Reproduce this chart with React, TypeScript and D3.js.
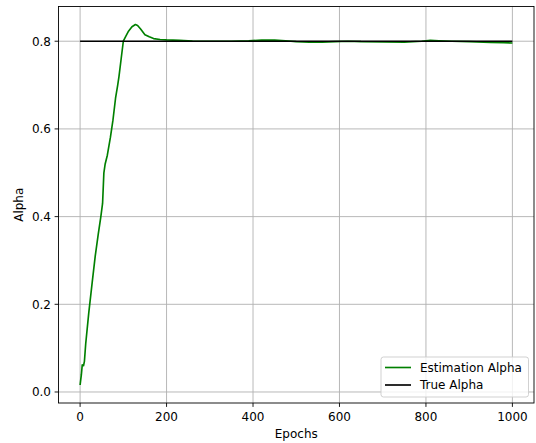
import React from "react";
import * as d3 from "d3";

const epochs = [0, 3, 5, 8, 10, 13, 20, 28, 35, 42, 48, 52, 55, 58, 63, 70, 76, 82, 87, 90, 95, 100, 105, 112, 120, 128, 133, 140, 150, 160, 170, 185, 200, 230, 260, 300, 350, 390, 420, 450, 475, 500, 530, 560, 590, 620, 650, 700, 750, 790, 810, 830, 860, 900, 950, 980, 1000];
const estAlpha = [0.016, 0.04, 0.062, 0.060, 0.07, 0.11, 0.18, 0.25, 0.31, 0.36, 0.40, 0.43, 0.50, 0.52, 0.54, 0.58, 0.62, 0.67, 0.70, 0.72, 0.76, 0.80, 0.81, 0.823, 0.833, 0.838, 0.836, 0.828, 0.815, 0.81, 0.806, 0.804, 0.803, 0.802, 0.8005, 0.800, 0.800, 0.801, 0.8025, 0.8025, 0.801, 0.799, 0.798, 0.798, 0.799, 0.800, 0.799, 0.7985, 0.798, 0.800, 0.802, 0.801, 0.800, 0.799, 0.7975, 0.7965, 0.796];
const trueAlpha = 0.8;
const xTicks = [0, 200, 400, 600, 800, 1000];
const yTicks = [0.0, 0.2, 0.4, 0.6, 0.8];
const legendLabels = ["Estimation Alpha", "True Alpha"];

const W = 536, H = 443;
const L = 58.5, R = 534, T = 6.5, B = 403;
const FONT = "DejaVu Sans, sans-serif";
const FS = 12;

export default function App() {
  const x = d3.scaleLinear().domain([-49.95, 1049.95]).range([L, R]);
  const y = d3.scaleLinear().domain([-0.0251, 0.8792]).range([B, T]);
  const line = d3.line<number>().x((_, i) => x(epochs[i])).y((d) => y(d));
  const fmtY = (v: number) => v.toFixed(1);
  return (
    <svg width={W} height={H} style={{ position: "absolute", left: 0, top: 0, background: "#fff" }} fontFamily={FONT}>
      <g>
        {xTicks.map((t) => (
          <line key={"gx" + t} x1={x(t)} x2={x(t)} y1={T} y2={B} stroke="#b0b0b0" strokeWidth={0.9} />
        ))}
        {yTicks.map((t) => (
          <line key={"gy" + t} x1={L} x2={R} y1={y(t)} y2={y(t)} stroke="#b0b0b0" strokeWidth={0.9} />
        ))}
      </g>
      <path d={line(estAlpha) || ""} fill="none" stroke="#008000" strokeWidth={1.65} strokeLinejoin="round" />
      <line x1={x(0)} x2={x(1000)} y1={y(trueAlpha)} y2={y(trueAlpha)} stroke="#000" strokeWidth={1.65} />
      <rect x={L} y={T} width={R - L} height={B - T} fill="none" stroke="#000" strokeWidth={0.9} />
      {xTicks.map((t) => (
        <g key={"tx" + t}>
          <line x1={x(t)} x2={x(t)} y1={B} y2={B + 3.9} stroke="#000" strokeWidth={0.9} />
          <text x={x(t)} y={B + 18} textAnchor="middle" fontSize={FS} fill="#000">{t}</text>
        </g>
      ))}
      {yTicks.map((t) => (
        <g key={"ty" + t}>
          <line x1={L - 3.9} x2={L} y1={y(t)} y2={y(t)} stroke="#000" strokeWidth={0.9} />
          <text x={L - 7.5} y={y(t)} dy="0.36em" textAnchor="end" fontSize={FS} fill="#000">{fmtY(t)}</text>
        </g>
      ))}
      <text x={(L + R) / 2} y={438} textAnchor="middle" fontSize={FS} fill="#000">Epochs</text>
      <text transform={`translate(22.5,${(T + B) / 2}) rotate(-90)`} textAnchor="middle" fontSize={FS} fill="#000">Alpha</text>
      <g>
        <rect x={381} y={357} width={147.5} height={40} rx={2.5} fill="#fff" fillOpacity={0.8} stroke="#cccccc" strokeWidth={0.9} />
        {legendLabels.map((lab, i) => (
          <g key={lab}>
            <line x1={385} x2={411} y1={367.5 + i * 17.5} y2={367.5 + i * 17.5} stroke={i === 0 ? "#008000" : "#000"} strokeWidth={1.65} />
            <text x={420} y={367.5 + i * 17.5} dy="0.36em" fontSize={FS} fill="#000">{lab}</text>
          </g>
        ))}
      </g>
    </svg>
  );
}
